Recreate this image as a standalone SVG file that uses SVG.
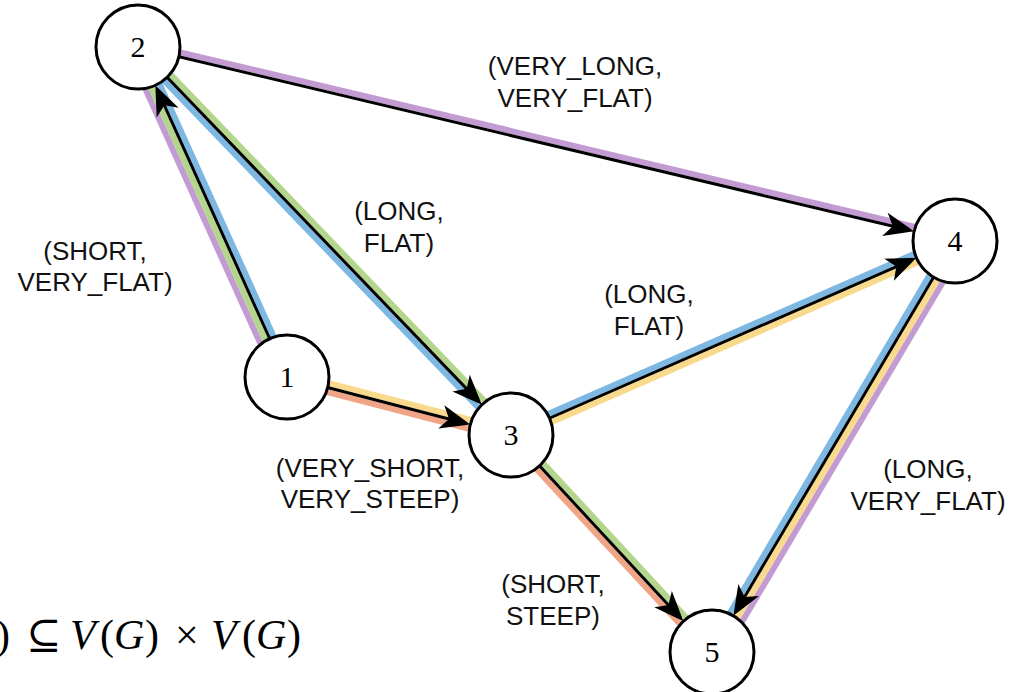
<svg xmlns="http://www.w3.org/2000/svg" width="1017" height="692" viewBox="0 0 1017 692">
<defs>
<style>
.bg{fill:#ffffff}
.band{fill:none;stroke-width:6;stroke-linecap:butt}
.pu{stroke:#C39BD3}
.gr{stroke:#B4D58C}
.bl{stroke:#7DB8E2}
.ye{stroke:#F9DA8C}
.or{stroke:#F0A587}
.edge{fill:none;stroke:#000;stroke-width:3;marker-end:url(#arr)}
.node circle{fill:#fff;stroke:#000;stroke-width:3}
.node text{font-family:"Liberation Serif","Times New Roman",serif;font-size:30px;text-anchor:middle;fill:#000}
.lbl{font-family:"Liberation Sans",Arial,sans-serif;font-size:26px;text-anchor:middle;fill:#111}
.math{font-family:"Liberation Serif","DejaVu Serif",serif;font-size:42px;fill:#000}
.it{font-style:italic}
</style>
<marker id="arr" markerUnits="userSpaceOnUse" markerWidth="40" markerHeight="30" refX="0" refY="0" orient="auto" overflow="visible">
<path d="M15,0 L-15,-12 L-7,0 L-15,12 Z" fill="#000"/>
</marker>
</defs>
<rect class="bg" x="0" y="0" width="1017" height="692"/>
<g id="connectors">
<line class="band pu" x1="277.43" y1="381.32" x2="128.43" y2="51.32"/>
<line class="band gr" x1="282.9" y1="378.85" x2="133.9" y2="48.85"/>
<line class="band bl" x1="291.1" y1="375.15" x2="142.1" y2="45.15"/>
<line class="band bl" x1="134.76" y1="50.12" x2="507.76" y2="438.12"/>
<line class="band gr" x1="141.24" y1="43.88" x2="514.24" y2="431.88"/>
<line class="band pu" x1="139.04" y1="42.62" x2="956.04" y2="236.62"/>
<line class="band ye" x1="288.13" y1="372.64" x2="512.13" y2="430.64"/>
<line class="band or" x1="285.87" y1="381.36" x2="509.87" y2="439.36"/>
<line class="band bl" x1="509.2" y1="430.88" x2="953.2" y2="236.88"/>
<line class="band ye" x1="512.8" y1="439.12" x2="956.8" y2="245.12"/>
<line class="band gr" x1="514.3" y1="431.94" x2="715.3" y2="648.94"/>
<line class="band or" x1="507.7" y1="438.06" x2="708.7" y2="655.06"/>
<line class="band pu" x1="964.04" y1="246.34" x2="721.04" y2="657.34"/>
<line class="band ye" x1="958.87" y1="243.29" x2="715.87" y2="654.29"/>
<line class="band bl" x1="951.13" y1="238.71" x2="708.13" y2="649.71"/>
<line class="edge" x1="287" y1="377" x2="161.46" y2="98.95"/>
<line class="edge" x1="138" y1="47" x2="471.5" y2="393.9"/>
<line class="edge" x1="138" y1="47" x2="899.54" y2="227.83"/>
<line class="edge" x1="287" y1="377" x2="455.82" y2="420.69"/>
<line class="edge" x1="511" y1="435" x2="902.79" y2="263.8"/>
<line class="edge" x1="511" y1="435" x2="673.24" y2="610.16"/>
<line class="edge" x1="955" y1="241" x2="741.01" y2="602.92"/>
</g>
<g id="node1" class="node"><circle cx="287" cy="377" r="42"/><text x="287" y="387">1</text></g>
<g id="node2" class="node"><circle cx="138" cy="47" r="42"/><text x="138" y="57">2</text></g>
<g id="node3" class="node"><circle cx="511" cy="435" r="42"/><text x="511" y="445">3</text></g>
<g id="node4" class="node"><circle cx="955" cy="241" r="42"/><text x="955" y="251">4</text></g>
<g id="node5" class="node"><circle cx="712" cy="652" r="42"/><text x="712" y="662">5</text></g>
<g id="labels">
<text class="lbl" x="575" y="75">(VERY_LONG,<tspan x="575" y="107">VERY_FLAT)</tspan></text>
<text class="lbl" x="399" y="220">(LONG,<tspan x="399" y="252">FLAT)</tspan></text>
<text class="lbl" x="95" y="260">(SHORT,<tspan x="95" y="291">VERY_FLAT)</tspan></text>
<text class="lbl" x="649" y="303">(LONG,<tspan x="649" y="335">FLAT)</tspan></text>
<text class="lbl" x="370" y="477">(VERY_SHORT,<tspan x="370" y="508">VERY_STEEP)</tspan></text>
<text class="lbl" x="928" y="478">(LONG,<tspan x="928" y="510">VERY_FLAT)</tspan></text>
<text class="lbl" x="553" y="593">(SHORT,<tspan x="553" y="625">STEEP)</tspan></text>
</g>
<g id="formula">
<text class="math" y="649"><tspan x="-4">)</tspan><tspan x="26">⊆</tspan><tspan x="70" class="it">V</tspan><tspan x="100">(</tspan><tspan x="114" class="it">G</tspan><tspan x="145">)</tspan><tspan x="175">×</tspan><tspan x="211" class="it">V</tspan><tspan x="242">(</tspan><tspan x="256" class="it">G</tspan><tspan x="287">)</tspan></text>
</g>
</svg>
